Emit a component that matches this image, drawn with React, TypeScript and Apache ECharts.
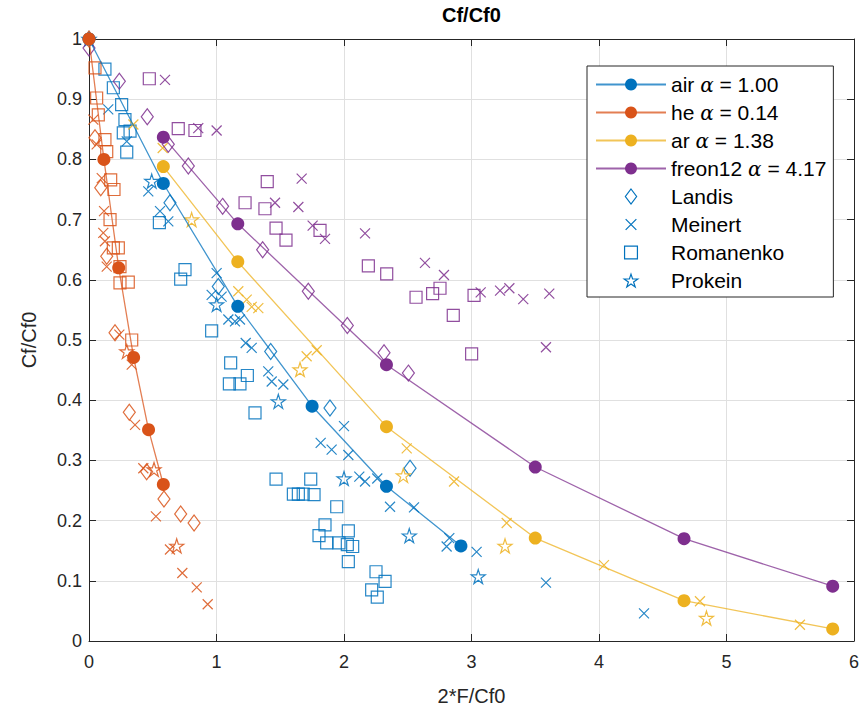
import React, { useEffect, useRef } from 'react';
import * as echarts from 'echarts';

// Colours per gas
const BLUE = '#0072BD';
const ORANGE = '#D95319';
const YELLOW = '#EDB120';
const PURPLE = '#7E2F8E';

const FONT = '"Liberation Sans", Arial, Helvetica, sans-serif';

// Model curves: [2*F/Cf0, Cf/Cf0]
const airFit = [[0, 1], [0.583, 0.76], [1.167, 0.556], [1.75, 0.39], [2.333, 0.257], [2.917, 0.158]];
const heFit = [[0, 1], [0.117, 0.8], [0.233, 0.62], [0.35, 0.471], [0.467, 0.351], [0.583, 0.26]];
const arFit = [[0.583, 0.788], [1.167, 0.63], [2.333, 0.356], [3.5, 0.171], [4.667, 0.067], [5.833, 0.02]];
const freonFit = [[0.583, 0.837], [1.167, 0.693], [2.333, 0.459], [3.5, 0.289], [4.667, 0.17], [5.833, 0.091]];

// Measurements — air
const airLandis = [[0.635, 0.728], [1.014, 0.589], [1.425, 0.481], [1.89, 0.387], [2.518, 0.287]];
const airMeinert = [
  [0.151, 0.883], [0.296, 0.83], [0.465, 0.747], [0.557, 0.714], [0.622, 0.697],
  [1.001, 0.611], [0.962, 0.575], [1.04, 0.572], [1.093, 0.534], [1.145, 0.531],
  [1.184, 0.534], [1.229, 0.495], [1.276, 0.487], [1.406, 0.448], [1.433, 0.431],
  [1.524, 0.426], [2.0, 0.357], [1.817, 0.329], [1.903, 0.318], [2.034, 0.309],
  [2.12, 0.273], [2.165, 0.265], [2.261, 0.27], [2.361, 0.223], [2.549, 0.222],
  [2.826, 0.171], [2.805, 0.157], [3.04, 0.148], [3.584, 0.097], [4.353, 0.046],
];
const airRomanenko = [
  [0.125, 0.95], [0.191, 0.919], [0.256, 0.891], [0.282, 0.866], [0.269, 0.844],
  [0.322, 0.847], [0.296, 0.812], [0.552, 0.695], [0.753, 0.617], [0.719, 0.601],
  [0.962, 0.515], [1.111, 0.462], [1.242, 0.441], [1.101, 0.427], [1.184, 0.427],
  [1.302, 0.379], [1.467, 0.269], [1.739, 0.269], [1.603, 0.244], [1.642, 0.244],
  [1.68, 0.244], [1.765, 0.243], [1.943, 0.223], [1.851, 0.193], [1.804, 0.175],
  [1.864, 0.163], [2.034, 0.183], [1.961, 0.163], [2.026, 0.16], [2.068, 0.157],
  [2.034, 0.132], [2.251, 0.115], [2.322, 0.099], [2.217, 0.085], [2.261, 0.073],
];
const airProkein = [[0, 1], [0.492, 0.764], [1.001, 0.559], [1.485, 0.398], [2.0, 0.27], [2.512, 0.175], [3.053, 0.107]];

// Measurements — helium
const heLandis = [
  [0, 1], [0.047, 0.836], [0.092, 0.753], [0.139, 0.639], [0.204, 0.512],
  [0.316, 0.38], [0.452, 0.281], [0.588, 0.236], [0.719, 0.211], [0.824, 0.196],
];
const heMeinert = [
  [0.034, 0.866], [0.06, 0.825], [0.1, 0.769], [0.118, 0.714], [0.112, 0.678],
  [0.125, 0.664], [0.139, 0.622], [0.238, 0.509], [0.335, 0.459], [0.361, 0.359],
  [0.426, 0.287], [0.525, 0.207], [0.635, 0.152], [0.732, 0.113], [0.845, 0.089],
  [0.931, 0.061],
];
const heRomanenko = [
  [0.047, 0.952], [0.06, 0.902], [0.073, 0.874], [0.125, 0.833], [0.139, 0.813],
  [0.17, 0.766], [0.196, 0.75], [0.165, 0.7], [0.191, 0.653], [0.23, 0.653],
  [0.243, 0.622], [0.243, 0.595], [0.308, 0.596], [0.335, 0.5],
];
const heProkein = [[0.296, 0.481], [0.51, 0.285], [0.688, 0.158]];

// Measurements — argon
const arMeinert = [
  [0.348, 0.858], [0.578, 0.819], [1.171, 0.581], [1.237, 0.567], [1.276, 0.555],
  [1.328, 0.553], [1.786, 0.483], [1.707, 0.473], [2.492, 0.32], [2.863, 0.265],
  [3.276, 0.196], [4.039, 0.126], [4.792, 0.066], [5.576, 0.027],
];
const arProkein = [[0.805, 0.7], [1.655, 0.451], [2.465, 0.275], [3.263, 0.158], [4.843, 0.038]];

// Measurements — freon 12
const freonLandis = [
  [0, 0.985], [0.238, 0.93], [0.457, 0.871], [0.622, 0.825], [0.779, 0.789],
  [1.048, 0.722], [1.362, 0.65], [1.72, 0.581], [2.026, 0.524], [2.314, 0.479],
  [2.505, 0.445],
];
const freonMeinert = [
  [0.596, 0.932], [0.857, 0.852], [1.001, 0.848], [1.459, 0.728], [1.668, 0.768],
  [1.642, 0.721], [1.754, 0.69], [1.851, 0.668], [2.165, 0.677], [2.635, 0.628],
  [2.784, 0.608], [3.072, 0.579], [3.224, 0.582], [3.297, 0.586], [3.406, 0.568],
  [3.61, 0.577], [3.584, 0.488],
];
const freonRomanenko = [
  [0.473, 0.934], [0.7, 0.851], [0.831, 0.848], [1.224, 0.728], [1.398, 0.763],
  [1.38, 0.718], [1.467, 0.686], [1.812, 0.682], [1.545, 0.666], [2.191, 0.623],
  [2.335, 0.61], [2.565, 0.571], [2.695, 0.577], [2.753, 0.586], [2.857, 0.541],
  [3.02, 0.574], [3.001, 0.477],
];

const fitNames = ['air α = 1.00', 'he α = 0.14', 'ar α = 1.38', 'freon12 α = 4.17'];
const sourceNames = ['Landis', 'Meinert', 'Romanenko', 'Prokein'];

// Marker shapes (open outlines)
const STAR = 'path://M10,0L12.245,6.91L19.51,6.91L13.63,11.18L15.88,18.09L10,13.82L4.12,18.09L6.37,11.18L0.49,6.91L7.755,6.91Z';
const CROSS = 'path://M0,0L10,10M10,0L0,10';
const SQUARE = 'rect';
const DIAMOND = 'path://M6,0L12,8L6,16L0,8Z';

const SYMBOLS: Record<string, { symbol: string; size: number | number[] }> = {
  Landis: { symbol: DIAMOND, size: [12, 16] },
  Meinert: { symbol: CROSS, size: 10 },
  Romanenko: { symbol: SQUARE, size: 12 },
  Prokein: { symbol: STAR, size: 14 },
};

// Padded versions so the legend icons keep a modest size
const LEGEND_ICONS: Record<string, string> = {
  Landis: 'path://M6,0L12,8L6,16L0,8Z',
  Meinert: 'path://M-2,-2M0,0L10,10M10,0L0,10M12,12',
  Romanenko: 'path://M-1,-1M0,0L12,0L12,12L0,12ZM13,13',
  Prokein: 'path://M10,-1.5M10,0L12.245,6.91L19.51,6.91L13.63,11.18L15.88,18.09L10,13.82L4.12,18.09L6.37,11.18L0.49,6.91L7.755,6.91ZM10,19.5',
};

function markerSeries(name: string, source: string, data: number[][], color: string) {
  const s = SYMBOLS[source];
  return {
    type: 'scatter',
    name,
    data,
    symbol: s.symbol,
    symbolSize: s.size,
    itemStyle: { color: 'none', borderColor: color, borderWidth: 1.2, opacity: 0.85 },
    emphasis: { disabled: true },
    z: 2,
  };
}

function fitSeries(name: string, data: number[][], color: string) {
  return {
    type: 'line',
    name,
    data,
    symbol: 'circle',
    symbolSize: 13,
    showSymbol: true,
    lineStyle: { color, width: 1.3, opacity: 0.75 },
    itemStyle: { color },
    emphasis: { disabled: true },
    z: 3,
  };
}

export default function App() {
  const ref = useRef<HTMLDivElement>(null);

  useEffect(() => {
    if (!ref.current) return;
    const chart = echarts.init(ref.current, null, { renderer: 'svg' });

    const axisCommon = {
      type: 'value',
      axisLine: { show: true, onZero: false, lineStyle: { color: '#262626', width: 1 } },
      axisTick: { show: true, inside: true, length: 7, lineStyle: { color: '#262626' } },
    };

    const option = {
      animation: false,
      backgroundColor: '#ffffff',
      title: {
        text: 'Cf/Cf0',
        left: 442,
        top: 5,
        padding: 0,
        textStyle: { fontFamily: FONT, fontSize: 20, fontWeight: 'bold', color: '#000' },
      },
      grid: { left: 89, right: 8, top: 39, bottom: 77, containLabel: false },
      xAxis: [
        {
          ...axisCommon,
          min: 0,
          max: 6,
          interval: 1,
          position: 'bottom',
          name: '2*F/Cf0',
          nameLocation: 'middle',
          nameGap: 45,
          nameTextStyle: { fontFamily: FONT, fontSize: 20, color: '#262626' },
          axisLabel: { fontFamily: FONT, fontSize: 18, color: '#262626', margin: 12 },
          splitLine: { show: true, lineStyle: { color: '#e0e0e0', width: 1 } },
        },
        {
          ...axisCommon,
          min: 0,
          max: 6,
          interval: 1,
          position: 'top',
          axisLabel: { show: false },
          splitLine: { show: false },
        },
      ],
      yAxis: [
        {
          ...axisCommon,
          min: 0,
          max: 1,
          interval: 0.1,
          position: 'left',
          name: 'Cf/Cf0',
          nameLocation: 'middle',
          nameGap: 50,
          nameTextStyle: { fontFamily: FONT, fontSize: 20, color: '#262626' },
          axisLabel: { fontFamily: FONT, fontSize: 18, color: '#262626', margin: 7 },
          splitLine: { show: true, lineStyle: { color: '#e0e0e0', width: 1 } },
        },
        {
          ...axisCommon,
          min: 0,
          max: 1,
          interval: 0.1,
          position: 'right',
          axisLabel: { show: false },
          splitLine: { show: false },
        },
      ],
      legend: {
        orient: 'vertical',
        left: 587,
        top: 66,
        padding: [8, 7, 6, 8],
        itemGap: 7,
        itemWidth: 70,
        itemHeight: 15,
        selectedMode: false,
        backgroundColor: '#ffffff',
        borderColor: '#262626',
        borderWidth: 1,
        borderRadius: 0,
        formatter: (name: string) => name.replace('α', '{a|α}'),
        textStyle: {
          fontFamily: FONT,
          fontSize: 21,
          color: '#000',
          rich: {
            a: { fontFamily: '"DejaVu Serif", serif', fontStyle: 'italic', fontSize: 20, color: '#000' },
          },
        },
        data: [
          ...fitNames.map((n) => ({ name: n })),
          ...sourceNames.map((n) => ({
            name: n,
            icon: LEGEND_ICONS[n],
            itemStyle: { color: 'none', borderColor: BLUE, borderWidth: 1.2, opacity: 1 },
          })),
        ],
      },
      series: [
        markerSeries('Landis', 'Landis', airLandis, BLUE),
        markerSeries('Meinert', 'Meinert', airMeinert, BLUE),
        markerSeries('Romanenko', 'Romanenko', airRomanenko, BLUE),
        markerSeries('Prokein', 'Prokein', airProkein, BLUE),
        markerSeries('Landis he', 'Landis', heLandis, ORANGE),
        markerSeries('Meinert he', 'Meinert', heMeinert, ORANGE),
        markerSeries('Romanenko he', 'Romanenko', heRomanenko, ORANGE),
        markerSeries('Prokein he', 'Prokein', heProkein, ORANGE),
        markerSeries('Meinert ar', 'Meinert', arMeinert, YELLOW),
        markerSeries('Prokein ar', 'Prokein', arProkein, YELLOW),
        markerSeries('Landis freon12', 'Landis', freonLandis, PURPLE),
        markerSeries('Meinert freon12', 'Meinert', freonMeinert, PURPLE),
        markerSeries('Romanenko freon12', 'Romanenko', freonRomanenko, PURPLE),
        fitSeries(fitNames[0], airFit, BLUE),
        fitSeries(fitNames[1], heFit, ORANGE),
        fitSeries(fitNames[2], arFit, YELLOW),
        fitSeries(fitNames[3], freonFit, PURPLE),
      ],
    };

    chart.setOption(option as any);
    return () => chart.dispose();
  }, []);

  return (
    <div
      ref={ref}
      style={{ position: 'fixed', left: 0, top: 0, width: 862, height: 718, background: '#fff' }}
    />
  );
}
